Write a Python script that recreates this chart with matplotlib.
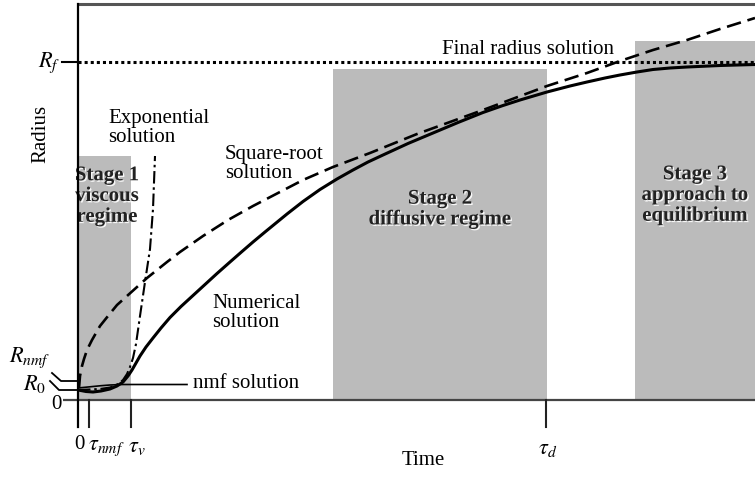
import matplotlib
matplotlib.use("Agg")
from matplotlib import pyplot as plt
import matplotlib.patheffects as pe

plt.rcParams['font.family'] = ['Liberation Serif', 'DejaVu Serif']
plt.rcParams['mathtext.fontset'] = 'stix'

# time / radius readings for each curve
num_t = [0, 8, 15, 23, 32, 39, 45, 50, 54, 58, 62, 68, 75, 83, 92, 103, 115,
         127, 139, 152, 164, 175, 187, 198, 209, 225, 242, 259, 275, 290, 305,
         330, 355, 380, 405, 425, 442, 469, 492, 509, 527, 542, 559, 575, 592,
         609, 642, 677]
num_r = [10, 8.5, 8, 9, 11, 14, 18, 24, 30, 37, 44, 53, 62, 72, 82.5, 93.5, 104.5,
         115.5, 126.5, 138, 148.5, 158, 168, 177, 186, 198.5, 210.5, 221, 230, 238, 245,
         256.5, 267, 277.5, 287.5, 294.5, 300, 308, 314, 318, 322, 325, 328, 330.5, 332,
         333, 334.5, 335.5]

sqrt_t = [1, 2, 4, 6, 9, 14, 22, 30, 39, 49, 59, 69, 79, 89, 102, 125, 150,
          175, 200, 225, 255, 292, 339, 405, 469, 509, 542, 575, 609, 642, 677]
sqrt_r = [12, 24, 34, 41, 50, 60, 74, 84, 95, 104, 113, 122, 130, 138, 148, 164,
          180, 194, 207, 220, 233, 247, 266, 290, 314, 327, 339, 350, 360, 371, 382]

exp_t = [0, 22, 32, 40, 45, 49, 52, 55, 58, 62, 67, 72, 75, 77]
exp_r = [10, 11, 12.5, 16, 20, 26, 33, 42, 56, 84, 118, 151, 191, 244]

nmf_t = [0, 8, 15, 23, 32, 45, 109]
nmf_r = [12, 12.8, 13.5, 14.3, 15, 15.5, 15.5]

R_final = 338
R_nmf = 19
R_0 = 10

tau_nmf = 11
tau_v = 53
tau_d = 468

# shaded stages: (start, end, height)
stages = [(0, 53, 244), (255, 469, 331), (557, 677, 359)]
stage_text = ["Stage 1\nviscous\nregime", "Stage 2\ndiffusive regime",
              "Stage 3\napproach to\nequilibrium"]
stage_pos = [(29, 204), (362, 191), (617, 205)]

fig = plt.figure(figsize=(7.55, 4.85), dpi=100)
ax = fig.add_axes([78/755, 84/485, 677/755, 396/485])
ax.set_xlim(0, 677)
ax.set_ylim(0, 396)
ax.axis('off')

FS = 15
for (a, b, h) in stages:
    ax.fill_between([a, b], 0, h, color='#bbbbbb', lw=0, zorder=1)

shadow = [pe.SimplePatchShadow(offset=(1, -1), shadow_rgbFace='white', alpha=0.9),
          pe.Normal()]
for txt, (x, y) in zip(stage_text, stage_pos):
    ax.text(x, y, txt, ha='center', va='center', fontsize=FS, fontweight='bold',
            color='#222222', linespacing=1.05, path_effects=shadow, zorder=2)

# axes frame drawn by hand so the ticks can run below the baseline
ax.plot([0, 677], [396, 396], color='#555555', lw=2.2, clip_on=False, zorder=3,
        solid_capstyle='butt')
ax.plot([-15, 677], [0, 0], color='#444444', lw=1.6, clip_on=False, zorder=3,
        solid_capstyle='butt')
ax.plot([0, 0], [-27, 396], color='black', lw=1.6, clip_on=False, zorder=5)
for t in [tau_nmf, tau_v, tau_d]:
    ax.plot([t, t], [-27, 0], color='#222222', lw=1.5, clip_on=False, zorder=3)

# radius markers on the left
ax.plot([-16, 0], [R_final, R_final], color='black', lw=1.5, clip_on=False)
ax.plot([-26, -17, 0], [27, R_nmf, R_nmf], color='black', lw=1.3, clip_on=False)
ax.plot([-28, -19, 0], [19, R_0, R_0], color='black', lw=1.3, clip_on=False)

# curves
ax.plot([0, 677], [R_final, R_final], color='black', lw=2.2,
        linestyle=(0, (1, 1)), dash_capstyle='butt', zorder=4)
ax.plot(sqrt_t, sqrt_r, color='black', lw=1.9, linestyle=(0, (5.5, 2.6)), zorder=4)
ax.plot(exp_t, exp_r, color='black', lw=1.5,
        linestyle=(0, (6, 1.8, 1.2, 1.8)), zorder=4)
ax.plot(num_t, num_r, color='black', lw=2.2, zorder=4)
ax.plot(nmf_t, nmf_r, color='black', lw=1.2, zorder=4)

# curve labels
ax.text(30, 273, "Exponential\nsolution", ha='left', va='center', fontsize=FS,
        linespacing=1.0)
ax.text(147, 237, "Square-root\nsolution", ha='left', va='center', fontsize=FS,
        linespacing=1.0)
ax.text(134, 88, "Numerical\nsolution", ha='left', va='center', fontsize=FS,
        linespacing=1.0)
ax.text(115, 17, "nmf solution", ha='left', va='center', fontsize=FS)
ax.text(450, 352, "Final radius solution", ha='center', va='center', fontsize=FS)

# axis labels
ax.text(-37, 267, "Radius", rotation=90, ha='center', va='center', fontsize=FS)
ax.text(345, -60, "Time", ha='center', va='center', fontsize=FS)
ax.text(-18, R_final, r"$R_f$", ha='right', va='center', fontsize=FS + 1)
ax.text(-27, 43, r"$R_{nmf}$", ha='right', va='center', fontsize=FS + 1)
ax.text(-32, 17, r"$R_0$", ha='right', va='center', fontsize=FS + 1)
ax.text(-16, -4, "0", ha='right', va='center', fontsize=FS)

ax.text(1, -44, "0", ha='center', va='center', fontsize=FS)
ax.text(tau_nmf - 1, -47, r"$\tau_{nmf}$", ha='left', va='center', fontsize=FS + 1)
ax.text(tau_v - 3, -47, r"$\tau_v$", ha='left', va='center', fontsize=FS + 1)
ax.text(tau_d - 8, -49, r"$\tau_d$", ha='left', va='center', fontsize=FS + 1)

fig.savefig("out.png", dpi=100)
